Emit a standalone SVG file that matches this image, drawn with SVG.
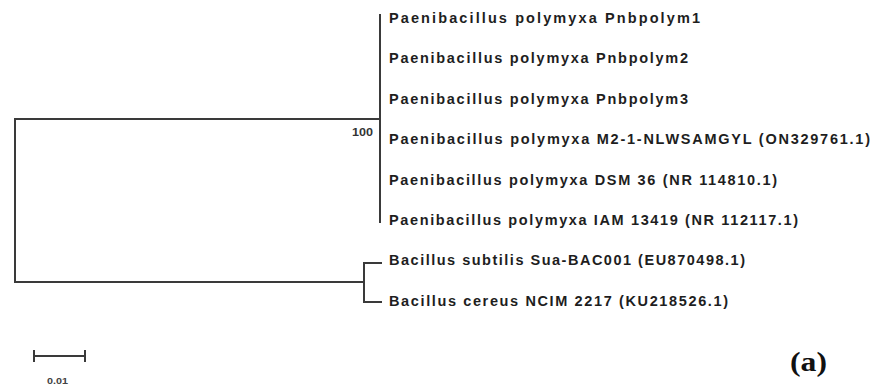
<svg xmlns="http://www.w3.org/2000/svg" width="873" height="391" viewBox="0 0 873 391">
<style>
.br{stroke:#3a3a3a;stroke-width:2;fill:none;stroke-linecap:square}
.lb{font-family:"Liberation Sans",Arial,sans-serif;font-weight:bold;font-size:14.5px;fill:#1e1e1e}
.bs{font-family:"Liberation Sans",Arial,sans-serif;font-weight:bold;font-size:10.5px;fill:#333}
</style>
<rect width="873" height="391" fill="#fff"/>
<g id="connectors">
<path class="br" d="M15,119 V282 M15,119 H380 M380,15 V222 M15,282 H364 M364,263 V302 M364,263 H381 M364,302 H381"/>
</g>
<g id="n1"><text class="lb" x="389" y="23" textLength="311" lengthAdjust="spacing">Paenibacillus polymyxa Pnbpolym1</text></g>
<g id="n2"><text class="lb" x="389" y="63" textLength="299" lengthAdjust="spacing">Paenibacillus polymyxa Pnbpolym2</text></g>
<g id="n3"><text class="lb" x="389" y="104" textLength="299" lengthAdjust="spacing">Paenibacillus polymyxa Pnbpolym3</text></g>
<g id="n4"><text class="lb" x="389" y="144" textLength="481" lengthAdjust="spacing">Paenibacillus polymyxa M2-1-NLWSAMGYL (ON329761.1)</text></g>
<g id="n5"><text class="lb" x="389" y="185" textLength="388" lengthAdjust="spacing">Paenibacillus polymyxa DSM 36 (NR 114810.1)</text></g>
<g id="n6"><text class="lb" x="389" y="225" textLength="409" lengthAdjust="spacing">Paenibacillus polymyxa IAM 13419 (NR 112117.1)</text></g>
<g id="n7"><text class="lb" x="389" y="265" textLength="356" lengthAdjust="spacing">Bacillus subtilis Sua-BAC001 (EU870498.1)</text></g>
<g id="n8"><text class="lb" x="389" y="306" textLength="339" lengthAdjust="spacing">Bacillus cereus NCIM 2217 (KU218526.1)</text></g>
<g id="bootstrap"><text class="bs" x="352" y="136" textLength="21" lengthAdjust="spacingAndGlyphs">100</text></g>
<g id="scale">
<path class="br" d="M34,356 H85 M34,351 V361 M85,351 V361" stroke-width="1.8"/>
<text x="47" y="384" font-family="Liberation Sans,Arial,sans-serif" font-weight="bold" font-size="9" fill="#444" textLength="21" lengthAdjust="spacingAndGlyphs">0.01</text>
</g>
<g id="panel"><text x="790" y="371" font-family="Liberation Serif,'Times New Roman',serif" font-weight="bold" font-size="28" fill="#111" textLength="37" lengthAdjust="spacingAndGlyphs">(a)</text></g>
</svg>
